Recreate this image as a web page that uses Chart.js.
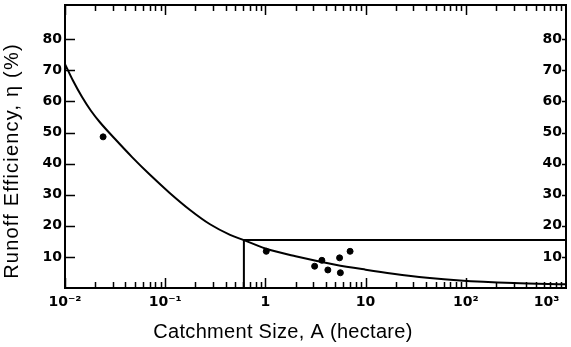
<!DOCTYPE html>
<html>
<head>
<meta charset="utf-8">
<script src="https://cdn.jsdelivr.net/npm/chart.js@4.4.0/dist/chart.umd.min.js"></script>
<style>
  html, body { margin: 0; padding: 0; background: #fff; }
</style>
</head>
<body>
<canvas id="chart" width="571" height="347"></canvas>
<script>
// fitted curve
const curveA   = [0.01, 0.012, 0.0148, 0.01815, 0.0223, 0.0316, 0.0467, 0.0705, 0.1116, 0.177, 0.28, 0.444, 0.61,
                  1, 2, 5, 10, 18.8, 41, 87.5, 300, 1000];
const curveEta = [72, 66.7, 61.4, 57.0, 53.3, 47.9, 42.1, 36.4, 30.5, 25.1, 20.5, 17.1, 15.4,
                  12.7, 10.2, 7.5, 5.9, 4.6, 3.3, 2.4, 1.6, 1.2];

// observed catchments
const obsA   = [0.024, 1.02, 3.1, 3.66, 4.2, 5.5, 5.6, 7.0];
const obsEta = [48.6, 11.8, 7.0, 8.9, 5.8, 9.7, 4.9, 11.8];

// guide: drop at A0 then flat line across
const guideA   = [0.61, 0.61, 1000];
const guideEta = [0, 15.4, 15.4];

// axes (last label is nudged left with figure spaces, as in the scan)
const xTicks = [0.01, 0.1, 1, 10, 100, 1000];
const xTickLabels = ['10⁻²', '10⁻¹', '1', '10', '10²', '10³\u2007\u2007\u2007\u2007'];
const yTicks = [10, 20, 30, 40, 50, 60, 70, 80];
const yMax = 91;

const xTitle = 'Catchment Size, A (hectare)';
const yTitle = 'Runoff Efficiency, η (%)';

const toPoints = (xs, ys) => xs.map((v, i) => ({ x: v, y: ys[i] }));

// 去掉刻度标签占用的边距
const noPad = s => { s.paddingLeft = s.paddingRight = s.paddingTop = s.paddingBottom = 0; };

// frame, inward ticks, axis titles
const frame = {
    id: 'frame',
    afterDraw(chart) {
        const { ctx, chartArea: a, scales: { x, y } } = chart;
        ctx.save();
        ctx.strokeStyle = '#000';
        ctx.lineWidth = 2;
        ctx.strokeRect(a.left, a.top, a.right - a.left, a.bottom - a.top);

        ctx.lineWidth = 1.5;
        ctx.beginPath();
        // log ticks along bottom and top
        for (let d = -2; d < 3; d++) {
            for (let k = 1; k <= 9; k++) {
                const px = Math.round(x.getPixelForValue(k * Math.pow(10, d))) + 0.5;
                const len = k === 1 ? 10 : 6;
                ctx.moveTo(px, a.bottom);
                ctx.lineTo(px, a.bottom - len);
                ctx.moveTo(px, a.top);
                ctx.lineTo(px, a.top + len);
            }
        }
        // y ticks left and right
        yTicks.forEach(v => {
            const py = Math.round(y.getPixelForValue(v)) + 0.5;
            ctx.moveTo(a.left, py);
            ctx.lineTo(a.left + 10, py);
            ctx.moveTo(a.right, py);
            ctx.lineTo(a.right - 4, py);
        });
        ctx.stroke();

        // titles
        ctx.fillStyle = '#000';
        ctx.font = '20px "Liberation Sans"';
        ctx.textAlign = 'center';
        ctx.textBaseline = 'middle';
        ctx.letterSpacing = '0.3px';
        ctx.fillText(xTitle, 283, 332);
        ctx.letterSpacing = '1.2px';
        ctx.translate(12, 161);
        ctx.rotate(-Math.PI / 2);
        ctx.fillText(yTitle, 0, 0);
        ctx.restore();
    }
};

const tickFont = { family: 'DejaVu Sans', size: 14, weight: 'bold' };

new Chart(document.getElementById('chart'), {
    type: 'scatter',
    data: {
        datasets: [
            {
                data: toPoints(curveA, curveEta),
                showLine: true,
                borderColor: '#000',
                borderWidth: 2,
                pointRadius: 0,
                cubicInterpolationMode: 'monotone'
            },
            {
                data: toPoints(guideA, guideEta),
                showLine: true,
                borderColor: '#000',
                borderWidth: 2,
                pointRadius: 0
            },
            {
                data: toPoints(obsA, obsEta),
                pointRadius: 3,
                pointBackgroundColor: '#000',
                pointBorderColor: '#000'
            }
        ]
    },
    options: {
        responsive: false,
        animation: false,
        layout: { padding: { top: 3, left: 0, right: 0, bottom: 0 } },
        plugins: { legend: { display: false }, tooltip: { enabled: false } },
        scales: {
            x: {
                type: 'logarithmic',
                position: 'bottom',
                min: 0.01,
                max: 1000,
                afterBuildTicks: s => { s.ticks = xTicks.map(v => ({ value: v })); },
                afterFit: s => { s.height = 59; noPad(s); },
                grid: { display: false, drawTicks: false },
                border: { display: false },
                ticks: {
                    autoSkip: false,
                    maxRotation: 0,
                    padding: 6,
                    color: '#000',
                    font: tickFont,
                    callback: (v, i) => xTickLabels[i]
                }
            },
            y: {
                position: 'left',
                min: 0,
                max: yMax,
                afterBuildTicks: s => { s.ticks = yTicks.map(v => ({ value: v })); },
                afterFit: s => { s.width = 65; noPad(s); },
                grid: { display: false, drawTicks: false },
                border: { display: false },
                ticks: { padding: 3, color: '#000', font: tickFont }
            },
            y2: {
                position: 'right',
                min: 0,
                max: yMax,
                afterBuildTicks: s => { s.ticks = yTicks.map(v => ({ value: v })); },
                afterFit: s => { s.width = 5; noPad(s); },
                grid: { display: false, drawTicks: false },
                border: { display: false },
                ticks: { mirror: true, padding: -4, color: '#000', font: tickFont }
            }
        }
    },
    plugins: [frame]
});
</script>
</body>
</html>
